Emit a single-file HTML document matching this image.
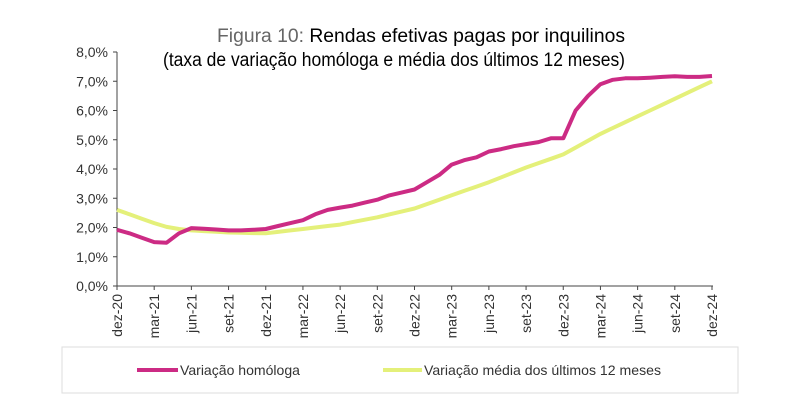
<!DOCTYPE html>
<html><head><meta charset="utf-8"><style>
html,body{margin:0;padding:0;background:#fff;}
svg{display:block;font-family:"Liberation Sans",sans-serif;}
</style></head><body>
<svg id="s" width="800" height="418" viewBox="0 0 800 418">
<text x="217" y="42" font-size="19" fill="#000" textLength="408" lengthAdjust="spacingAndGlyphs"><tspan fill="#666">Figura 10:</tspan> Rendas efetivas pagas por inquilinos</text>
<text x="163" y="66" font-size="19" fill="#000" textLength="462" lengthAdjust="spacingAndGlyphs">(taxa de variação homóloga e média dos últimos 12 meses)</text>
<g id="ax" stroke="#444" stroke-width="1"></g>
<g id="lab" font-size="14" fill="#333"></g>
<polyline id="m" fill="none" stroke="#e4f07a" stroke-width="4" stroke-linejoin="round"/>
<polyline id="h" fill="none" stroke="#cc2b84" stroke-width="4" stroke-linejoin="round"/>
<rect x="62" y="347" width="676" height="46" fill="none" stroke="#ddd"/>
<line x1="137" y1="370" x2="178" y2="370" stroke="#cc2b84" stroke-width="4"/>
<text x="180" y="375" font-size="14" fill="#333" textLength="120" lengthAdjust="spacingAndGlyphs">Variação homóloga</text>
<line x1="383" y1="370" x2="422" y2="370" stroke="#e4f07a" stroke-width="4"/>
<text x="424" y="375" font-size="14" fill="#333" textLength="237" lengthAdjust="spacingAndGlyphs">Variação média dos últimos 12 meses</text>
</svg>
<script>
var X0=117,X1=712,Y0=286,K=29.25,NS="http://www.w3.org/2000/svg";
function el(t,a,p,txt){var e=document.createElementNS(NS,t);for(var k in a)e.setAttribute(k,a[k]);if(txt)e.textContent=txt;document.getElementById(p).appendChild(e);}
el('line',{x1:X0,y1:52,x2:X0,y2:Y0},'ax');el('line',{x1:X0,y1:Y0,x2:X1+1,y2:Y0},'ax');
for(var i=0;i<=8;i++){var y=Y0-i*K;el('line',{x1:X0-4,y1:y,x2:X0,y2:y},'ax');el('text',{x:X0-9,y:y+5,'text-anchor':'end'},'lab',i+',0%');}
var lb=['dez-20','mar-21','jun-21','set-21','dez-21','mar-22','jun-22','set-22','dez-22','mar-23','jun-23','set-23','dez-23','mar-24','jun-24','set-24','dez-24'];
for(var i=0;i<17;i++){var x=X0+i*(X1-X0)/16;el('line',{x1:x,y1:Y0,x2:x,y2:Y0+4},'ax');el('text',{x:0,y:0,'text-anchor':'end',transform:'translate('+(x+5)+','+(Y0+8)+') rotate(-90)'},'lab',lb[i]);}
var h=[1.92,1.8,1.65,1.5,1.48,1.8,1.98,1.96,1.93,1.9,1.9,1.92,1.95,2.05,2.15,2.25,2.45,2.6,2.68,2.75,2.85,2.95,3.1,3.2,3.3,3.55,3.8,4.15,4.3,4.4,4.6,4.68,4.78,4.85,4.92,5.05,5.05,6.0,6.5,6.9,7.05,7.1,7.1,7.12,7.15,7.17,7.15,7.15,7.18];
var mk=[2.6,2.15,1.9,1.83,1.8,1.95,2.1,2.35,2.65,3.1,3.55,4.05,4.5,5.2,5.8,6.4,7.0];
var m=[];for(var i=0;i<16;i++)for(var j=0;j<3;j++)m.push(mk[i]+(mk[i+1]-mk[i])*j/3);m.push(7.0);
m[1]=2.45;m[2]=2.3;m[4]=2.02;m[5]=1.95;
function pts(a){return a.map(function(v,i){return (X0+i*(X1-X0)/48).toFixed(1)+','+(Y0-v*K).toFixed(1);}).join(' ');}
document.getElementById('h').setAttribute('points',pts(h));
document.getElementById('m').setAttribute('points',pts(m));
</script>
</body></html>
